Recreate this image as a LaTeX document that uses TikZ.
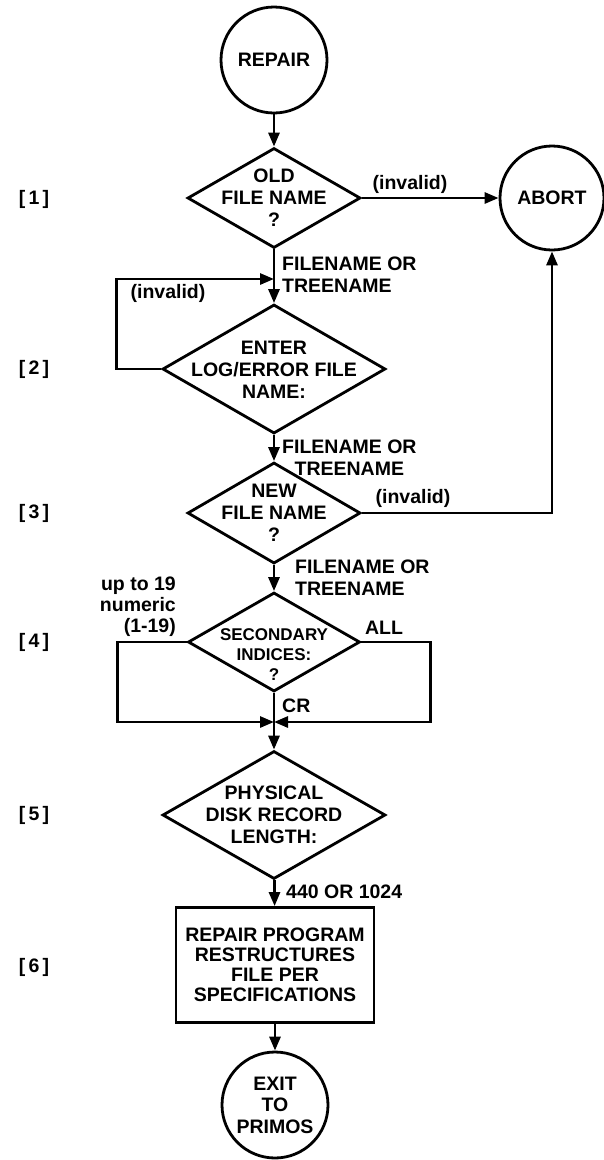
\documentclass[tikz,border=0pt]{standalone}
\usepackage{fontspec}
\setmainfont{Liberation Sans}
\usetikzlibrary{shapes.geometric,arrows.meta}

\tikzset{
  decision/.style={diamond,draw,line width=2.8pt,inner sep=0pt},
  terminal/.style={circle,draw,line width=2.8pt,inner sep=0pt,minimum size=106pt},
  flow/.style={line width=2.8pt,-{Triangle[length=14pt,width=11pt]}},
  wire/.style={line width=2.8pt},
}

\begin{document}
\begin{tikzpicture}[x=1pt,y=-1pt,font=\fontsize{19.5}{22}\selectfont\bfseries,inner sep=0pt]
\useasboundingbox (0,0) rectangle (603,1160);

\node (repair) at (274,60) [terminal] {REPAIR};
\node (old) at (274,198) [decision,minimum width=173pt,minimum height=100pt] {};
\node (oldtext) at (274,198) [align=center] {OLD\\FILE NAME\\?};
\node (abort) at (552,198) [terminal,minimum size=104pt] {ABORT};
\node (log) at (274,369) [decision,minimum width=223pt,minimum height=129pt] {};
\node (logtext) at (274,370) [align=center] {ENTER\\LOG/ERROR FILE\\NAME:};
\node (new) at (274,513) [decision,minimum width=173pt,minimum height=101pt] {};
\node (newtext) at (274,513) [align=center] {NEW\\FILE NAME\\?};
\node (sec) at (274,642) [decision,minimum width=172pt,minimum height=99pt] {};
\node (sectext) at (274,655) [align=center,font=\fontsize{17}{20}\selectfont\bfseries] {SECONDARY\\INDICES:\\?};
\node (disk) at (274,815) [decision,minimum width=223pt,minimum height=128pt] {};
\node (disktext) at (274,815) [align=center] {PHYSICAL\\DISK RECORD\\LENGTH:};
\node (restructure) at (275,965) [draw,line width=2.8pt,minimum width=198pt,minimum height=115pt,align=center,font=\fontsize{19.5}{20}\selectfont\bfseries] {REPAIR PROGRAM\\RESTRUCTURES\\FILE PER\\SPECIFICATIONS};
\node (exit) at (275,1105) [terminal,align=center,font=\fontsize{19.5}{21.5}\selectfont\bfseries] {EXIT\\TO\\PRIMOS};

\coordinate (retry) at (274,279);
\coordinate (merge) at (274,722);

\draw [flow] (repair) -- (old);
\draw [flow] (old) -- (abort);
\draw [flow] (old) -- (log);
\draw [flow] (log.west) -- ++(-45,0) |- (retry);
\draw [flow] (log) -- (new);
\draw [flow] (new.east) -| (abort.south);
\draw [flow] (new) -- (sec);
\draw [flow] (sec.west) -- ++(-69,0) |- (merge);
\draw [flow] (sec.east) -- ++(69,0) |- (merge);
\draw [wire] (sec.south) -- (merge);
\draw [flow] (merge) -- (disk.north);
\draw [flow] (disk) -- (restructure);
\draw [flow] (restructure) -- (exit);

\node (inv1) at (410,184) {(invalid)};
\node (inv2) at (168,293) {(invalid)};
\node (inv3) at (413,498) {(invalid)};
\node (name1) at (282,275) [anchor=west,align=left] {FILENAME OR\\TREENAME};
\node (name2) at (282,458) [anchor=west,align=center] {FILENAME OR\\TREENAME};
\node (name3) at (295,578) [anchor=west,align=left] {FILENAME OR\\TREENAME};
\node (numeric) at (176,607) [anchor=east,align=right,font=\fontsize{19.5}{21}\selectfont\bfseries] {up to 19\\numeric\\(1-19)};
\node (all) at (384,628) {ALL};
\node (cr) at (282,706) [anchor=west] {CR};
\node (len) at (286,892) [anchor=west] {440 OR 1024};

\node (step1) at (34,199) {[\,1\,]};
\node (step2) at (34,369) {[\,2\,]};
\node (step3) at (34,513) {[\,3\,]};
\node (step4) at (34,642) {[\,4\,]};
\node (step5) at (34,815) {[\,5\,]};
\node (step6) at (34,967) {[\,6\,]};

\end{tikzpicture}
\end{document}
